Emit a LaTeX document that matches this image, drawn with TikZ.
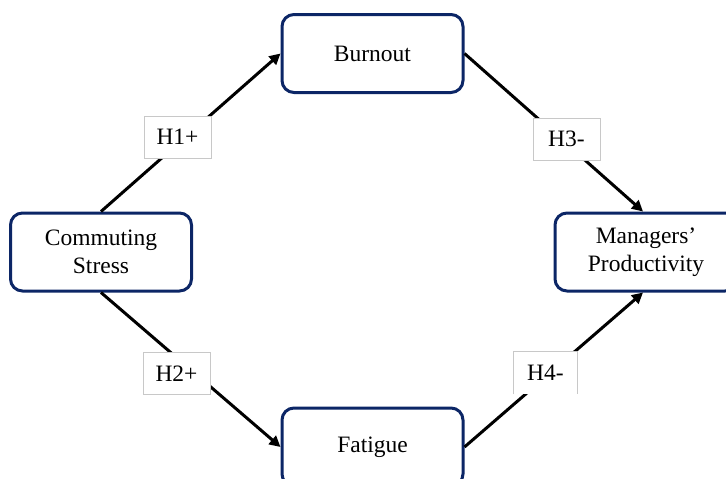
\documentclass[tikz,border=0pt]{standalone}
\usepackage{fontspec}
\setmainfont{Liberation Serif}
\usetikzlibrary{arrows.meta}
\definecolor{boxnavy}{RGB}{12,38,102}
\definecolor{labgray}{RGB}{200,200,200}
\begin{document}
\begin{tikzpicture}[x=1pt,y=-1pt,
  varbox/.style={draw=boxnavy,line width=3pt,rounded corners=12pt,fill=white,
    minimum width=181pt,minimum height=78pt,align=center,inner sep=0pt,
    font=\fontsize{23.5}{28}\selectfont},
  hyplabel/.style={fill=white,minimum width=67pt,minimum height=42pt,inner sep=0pt,
    font=\fontsize{23.5}{28}\selectfont},
  hypbox/.style={hyplabel,draw=labgray,line width=0.8pt},
  link/.style={line width=3pt,-{Triangle[length=11pt,width=11pt]}}]
\useasboundingbox (0,0) rectangle (726,479);
\begin{scope}
\clip (0,0) rectangle (726,479);
% nodes
\node[varbox] (cs) at (101,252) {Commuting\\Stress};
\node[varbox] (bo) at (372.5,53.5) {Burnout};
\node[varbox] (fa) at (372.5,447) {Fatigue};
\node[varbox,minimum width=182pt] (mp) at (646,252) {Managers’\\Productivity};
% connectors
\draw[link] (cs.north) -- (bo.west);
\draw[link] (bo.east) -- (mp.north -| 643,0);
\draw[link] (cs.south) -- (fa.west);
\draw[link] (fa.east) -- (mp.south -| 643,0);
% labels
\node[hypbox] (h1) at (177.5,137) {H1+};
\node[hypbox] (h3) at (566.5,139) {H3-};
\node[hypbox] (h2) at (176.5,373.5) {H2+};
\node[hyplabel,minimum width=63pt] (h4) at (545.5,373) {H4-};
\draw[labgray,line width=0.8pt] (h4.south west) -- (h4.north west) -- (h4.north east) -- (h4.south east);
\end{scope}
\end{tikzpicture}
\end{document}
